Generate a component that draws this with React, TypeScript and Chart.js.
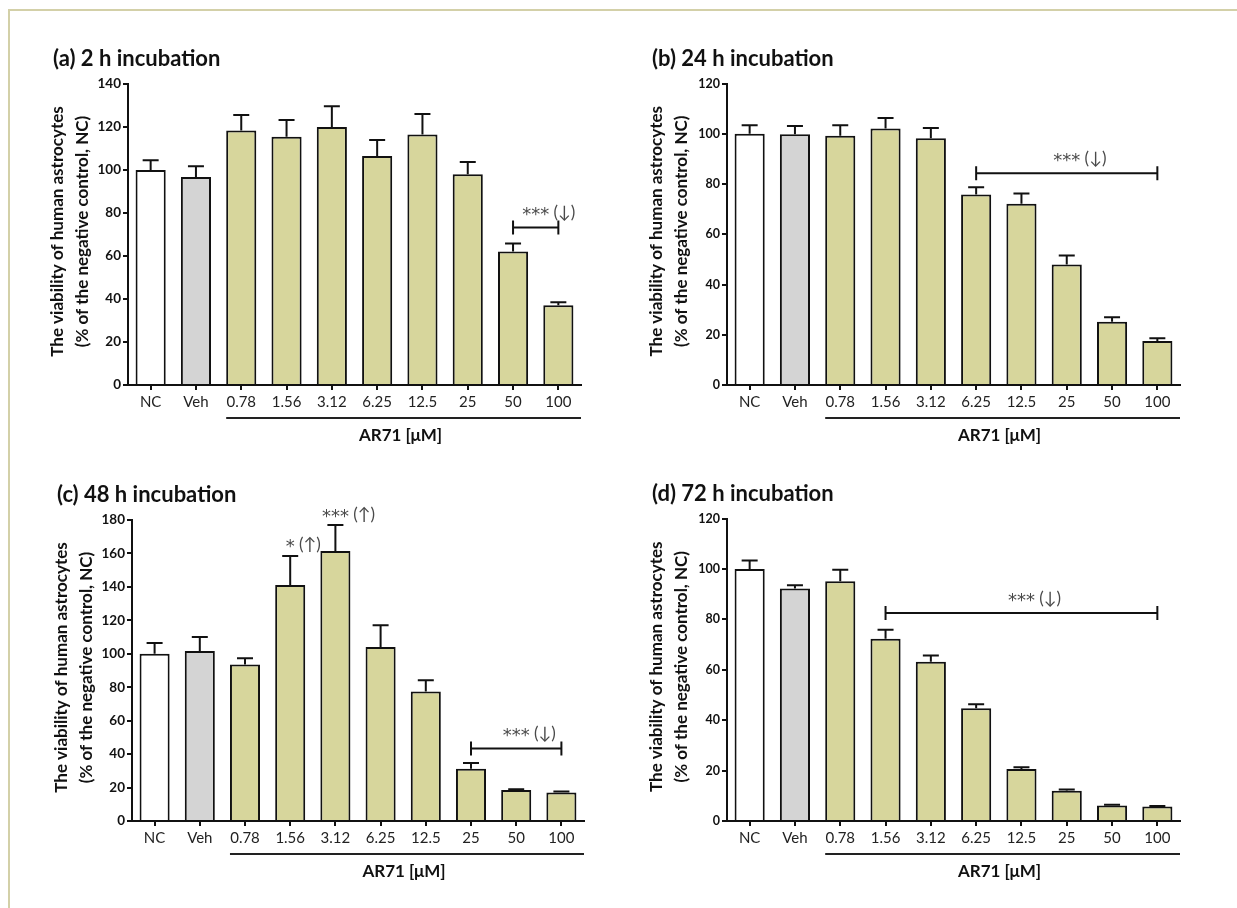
import React, { useEffect, useRef } from 'react';
import { Chart, registerables } from 'chart.js';

Chart.register(...registerables);

// ---------- data ----------
const categories = ['NC', 'Veh', '0.78', '1.56', '3.12', '6.25', '12.5', '25', '50', '100'];

const means2h = [100, 96.7, 118.4, 115.5, 120.0, 106.5, 116.5, 98.0, 62.1, 37.1];
const sem2h = [4.5, 5.1, 7.2, 7.8, 9.6, 7.4, 9.6, 5.7, 3.7, 1.4];

const means24h = [100, 99.8, 99.2, 102.1, 98.2, 75.8, 72.1, 48.0, 25.2, 17.5];
const sem24h = [3.4, 3.3, 4.2, 4.2, 4.1, 2.9, 4.1, 3.5, 1.8, 1.1];

const means48h = [100, 101.6, 93.6, 141.1, 161.5, 104.0, 77.5, 31.3, 18.6, 17.0];
const sem48h = [6.4, 8.4, 3.8, 17.3, 15.5, 13.0, 6.7, 3.4, 0.4, 0.6];

const means72h = [100, 92.2, 95.1, 72.3, 63.2, 44.7, 20.6, 12.0, 6.1, 5.8];
const sem72h = [3.3, 1.3, 4.6, 3.6, 2.5, 1.6, 0.7, 0.5, 0.3, 0.2];

const yTicks2h = [0, 20, 40, 60, 80, 100, 120, 140];
const yTicks24h = [0, 20, 40, 60, 80, 100, 120];
const yTicks48h = [0, 20, 40, 60, 80, 100, 120, 140, 160, 180];
const yTicks72h = [0, 20, 40, 60, 80, 100, 120];

// significance brackets: from/to category index, level (value), stars, arrow
const brackets2h = [{ from: 8, to: 9, level: 73.2, stars: '***', arrow: '↓' }];
const brackets24h = [{ from: 5, to: 9, level: 84.3, stars: '***', arrow: '↓' }];
const brackets48h = [{ from: 7, to: 9, level: 43.3, stars: '***', arrow: '↓' }];
const brackets72h = [{ from: 3, to: 9, level: 82.5, stars: '***', arrow: '↓' }];

// single-bar marks: category index, level (value), stars, arrow
const marks48h = [
  { at: 3, level: 165.3, stars: '*', arrow: '↑' },
  { at: 4, level: 183.4, stars: '***', arrow: '↑' },
];

const titles = ['(a) 2 h incubation', '(b) 24 h incubation', '(c) 48 h incubation', '(d) 72 h incubation'];
const yTitleLines = ['The viability of human astrocytes', '(% of the negative control, NC)'];
const xTitle = 'AR71 [μM]';

// ---------- layout / style ----------
const FONT = 'Lato, "Open Sans", sans-serif';
const STAR_FONT = '"DejaVu Sans", sans-serif';
const OLIVE = '#d7d69c';
const GREY = '#d4d4d4';
const INK = '#111111';

type Panel = {
  title: string;
  means: number[];
  sem: number[];
  yTicks: number[];
  brackets: { from: number; to: number; level: number; stars: string; arrow: string }[];
  marks: { at: number; level: number; stars: string; arrow: string }[];
  box: { x: number; y: number; w: number; h: number };
  area: { l: number; t: number; r: number; b: number };
  yFont: number;
};

const panels: Panel[] = [
  {
    title: titles[0], means: means2h, sem: sem2h, yTicks: yTicks2h, brackets: brackets2h, marks: [],
    box: { x: 0, y: 0, w: 618, h: 454 }, area: { l: 128, t: 84, r: 581, b: 385 }, yFont: 13.5,
  },
  {
    title: titles[1], means: means24h, sem: sem24h, yTicks: yTicks24h, brackets: brackets24h, marks: [],
    box: { x: 618, y: 0, w: 619, h: 454 }, area: { l: 727, t: 83.5, r: 1180, b: 385 }, yFont: 12.5,
  },
  {
    title: titles[2], means: means48h, sem: sem48h, yTicks: yTicks48h, brackets: brackets48h, marks: marks48h,
    box: { x: 0, y: 454, w: 618, h: 454 }, area: { l: 132, t: 520, r: 584, b: 821 }, yFont: 13.5,
  },
  {
    title: titles[3], means: means72h, sem: sem72h, yTicks: yTicks72h, brackets: brackets72h, marks: [],
    box: { x: 618, y: 454, w: 619, h: 454 }, area: { l: 727, t: 518.5, r: 1180, b: 821 }, yFont: 12.5,
  },
];

const Y_W = 40;
const X_H = 30;

function drawStars(ctx: CanvasRenderingContext2D, cx: number, cy: number, stars: string, arrow: string) {
  ctx.save();
  ctx.fillStyle = '#4a4a4a';
  ctx.font = `18px ${STAR_FONT}`;
  ctx.textBaseline = 'middle';
  const sw = ctx.measureText(stars).width;
  ctx.textAlign = 'center';
  ctx.fillText(stars, cx, cy + 3);
  ctx.textAlign = 'left';
  ctx.font = `17px ${FONT}`;
  ctx.fillText(` (${arrow})`, cx + sw / 2, cy);
  ctx.restore();
}

function makeConfig(p: Panel): any {
  const decor = {
    id: 'decor' + p.title,
    afterDatasetsDraw(chart: any) {
      const ctx: CanvasRenderingContext2D = chart.ctx;
      const meta = chart.getDatasetMeta(0);
      const ys = chart.scales.y;
      ctx.save();
      ctx.strokeStyle = INK;
      ctx.lineWidth = 2;
      meta.data.forEach((bar: any, i: number) => {
        const x = bar.x;
        const top = ys.getPixelForValue(p.means[i]);
        const e = ys.getPixelForValue(p.means[i] + p.sem[i]);
        ctx.beginPath();
        ctx.moveTo(x, top);
        ctx.lineTo(x, e);
        ctx.moveTo(x - 8, e);
        ctx.lineTo(x + 8, e);
        ctx.stroke();
      });
      ctx.restore();
    },
    afterDraw(chart: any) {
      const ctx: CanvasRenderingContext2D = chart.ctx;
      const a = chart.chartArea;
      const meta = chart.getDatasetMeta(0);
      const ys = chart.scales.y;
      ctx.save();
      // panel title
      ctx.fillStyle = INK;
      ctx.font = `bold 22px ${FONT}`;
      ctx.textAlign = 'left';
      ctx.textBaseline = 'middle';
      ctx.fillText(p.title, a.left - 75, a.top - 25);

      // y title (two rotated lines)
      ctx.font = `bold 17px ${FONT}`;
      ctx.textAlign = 'center';
      const cy = (a.top + a.bottom) / 2 - 3;
      [a.left - 70, a.left - 45].forEach((lx, k) => {
        ctx.save();
        ctx.translate(lx, cy);
        ctx.rotate(-Math.PI / 2);
        ctx.fillText(yTitleLines[k], 0, 0);
        ctx.restore();
      });

      // underline for AR71 group + label
      const b2 = meta.data[2];
      const x0 = b2.x - b2.width / 2;
      const x1 = a.right;
      ctx.strokeStyle = '#222';
      ctx.lineWidth = 2;
      ctx.beginPath();
      ctx.moveTo(x0, a.bottom + 33);
      ctx.lineTo(x1, a.bottom + 33);
      ctx.stroke();
      ctx.font = `bold 17px ${FONT}`;
      ctx.fillStyle = INK;
      ctx.textAlign = 'center';
      ctx.fillText(xTitle, (x0 + x1) / 2 - 3, a.bottom + 51);

      // brackets
      p.brackets.forEach((br) => {
        const y = ys.getPixelForValue(br.level);
        const xa = meta.data[br.from].x;
        const xb = meta.data[br.to].x;
        ctx.strokeStyle = INK;
        ctx.lineWidth = 2;
        ctx.beginPath();
        ctx.moveTo(xa, y);
        ctx.lineTo(xb, y);
        ctx.moveTo(xa, y - 7);
        ctx.lineTo(xa, y + 7);
        ctx.moveTo(xb, y - 7);
        ctx.lineTo(xb, y + 7);
        ctx.stroke();
        drawStars(ctx, (xa + xb) / 2, y - 15, br.stars, br.arrow);
      });
      p.marks.forEach((m) => {
        const y = ys.getPixelForValue(m.level);
        drawStars(ctx, meta.data[m.at].x, y, m.stars, m.arrow);
      });
      ctx.restore();
    },
  };

  return {
    type: 'bar',
    data: {
      labels: categories,
      datasets: [
        {
          data: p.means,
          backgroundColor: categories.map((_, i) => (i === 0 ? '#ffffff' : i === 1 ? GREY : OLIVE)),
          borderColor: INK,
          borderWidth: 2,
          borderSkipped: 'start',
          barPercentage: 0.665,
          categoryPercentage: 1,
        },
      ],
    },
    options: {
      responsive: false,
      maintainAspectRatio: false,
      animation: false,
      events: [],
      layout: {
        autoPadding: false,
        padding: {
          left: p.area.l - p.box.x - Y_W,
          top: p.area.t - p.box.y,
          right: p.box.x + p.box.w - p.area.r,
          bottom: p.box.y + p.box.h - p.area.b - X_H,
        },
      },
      plugins: {
        legend: { display: false },
        tooltip: { enabled: false },
        title: { display: false },
      },
      scales: {
        x: {
          type: 'category',
          offset: true,
          grid: {
            display: true,
            drawOnChartArea: false,
            drawTicks: true,
            tickLength: 5,
            color: INK,
            lineWidth: 2,
            offset: false,
          },
          border: { display: true, color: INK, width: 2 },
          ticks: {
            font: { family: FONT, size: 15 },
            color: '#222',
            padding: 3,
            maxRotation: 0,
            autoSkip: false,
          },
          afterFit: (s: any) => {
            s.height = X_H;
          },
        },
        y: {
          min: 0,
          max: p.yTicks[p.yTicks.length - 1],
          afterBuildTicks: (s: any) => {
            s.ticks = p.yTicks.map((v) => ({ value: v }));
          },
          grid: {
            display: true,
            drawOnChartArea: false,
            drawTicks: true,
            tickLength: 5,
            color: INK,
            lineWidth: 2,
          },
          border: { display: true, color: INK, width: 2 },
          ticks: {
            font: { family: FONT, size: p.yFont, weight: 'bold' },
            color: INK,
            padding: 2,
          },
          afterFit: (s: any) => {
            s.width = Y_W;
          },
        },
      },
    },
    plugins: [decor],
  };
}

function PanelChart({ p }: { p: Panel }) {
  const ref = useRef<HTMLCanvasElement>(null);
  useEffect(() => {
    let chart: Chart | null = null;
    let cancelled = false;
    const build = () => {
      if (cancelled || !ref.current) return;
      chart = new Chart(ref.current, makeConfig(p));
    };
    const fonts: any = (document as any).fonts;
    if (fonts && fonts.load) {
      Promise.all([
        fonts.load(`bold 22px Lato`),
        fonts.load(`14px Lato`),
        fonts.load(`18px "DejaVu Sans"`),
      ]).then(build, build);
    } else {
      build();
    }
    return () => {
      cancelled = true;
      if (chart) chart.destroy();
    };
  }, [p]);
  return (
    <canvas
      ref={ref}
      width={p.box.w}
      height={p.box.h}
      style={{ position: 'absolute', left: p.box.x, top: p.box.y, width: p.box.w, height: p.box.h }}
    />
  );
}

export default function App() {
  return (
    <div
      style={{
        position: 'absolute',
        left: 0,
        top: 0,
        width: 1237,
        height: 908,
        background: '#ffffff',
        overflow: 'hidden',
      }}
    >
      <div
        style={{
          position: 'absolute',
          left: 8,
          top: 9,
          width: 1240,
          height: 910,
          borderTop: '2px solid #d3d0a8',
          borderLeft: '2px solid #d3d0a8',
        }}
      />
      {panels.map((p, i) => (
        <PanelChart key={i} p={p} />
      ))}
    </div>
  );
}
